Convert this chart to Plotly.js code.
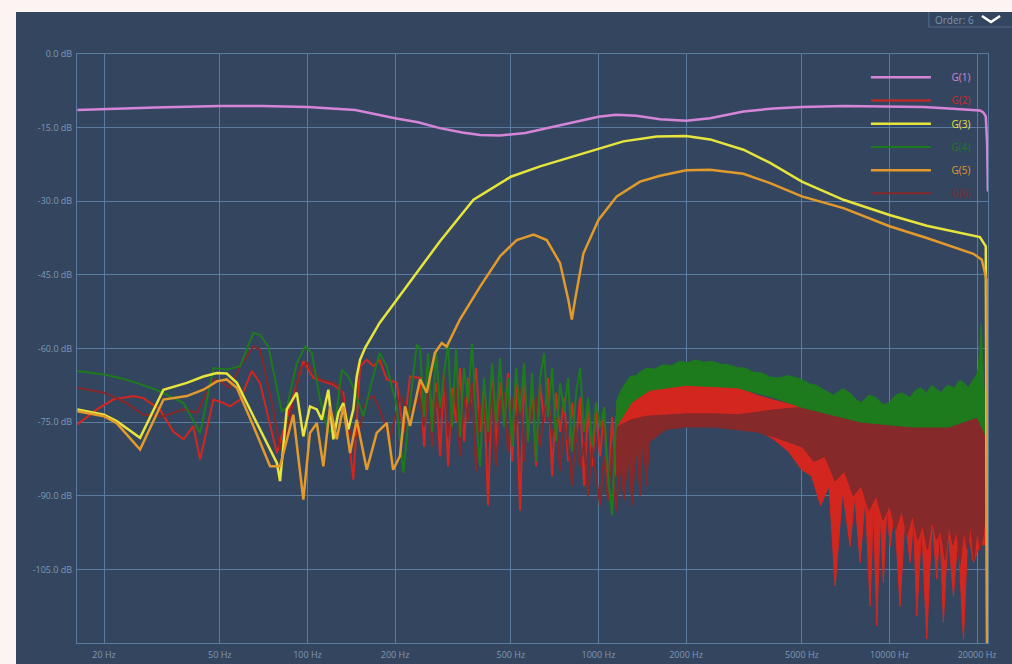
<!DOCTYPE html>
<html><head><meta charset="utf-8">
<script src="https://cdn.plot.ly/plotly-3.0.1.min.js"></script>
<style>
html,body{margin:0;padding:0;background:#fdf3f2;overflow:hidden;}
#chart{position:absolute;left:16px;top:12px;width:996px;height:652px;}
</style></head><body><div id="chart"></div>
<script>
// ---------- tick labels ----------
const xTickVals = [20, 50, 100, 200, 500, 1000, 2000, 5000, 10000, 20000];
const xTickText = ['20 Hz','50 Hz','100 Hz','200 Hz','500 Hz','1000 Hz','2000 Hz','5000 Hz','10000 Hz','20000 Hz'];
const yTickVals = [0, -15, -30, -45, -60, -75, -90, -105];
const yTickText = ['0.0 dB','-15.0 dB','-30.0 dB','-45.0 dB','-60.0 dB','-75.0 dB','-90.0 dB','-105.0 dB'];

// ---------- series names / colours ----------
const seriesNames = ['G(1)','G(2)','G(3)','G(4)','G(5)','G(6)'];
const seriesColors = ['#d585d8','#d3261f','#e7e43c','#1d7a1d','#e29a2c','#86292a'];

// ---------- G(1) ----------
const g1Freq = [16.2, 20, 30, 50, 70, 100, 146, 200, 240, 285, 340, 392, 457, 560, 696, 870, 1000, 1150, 1350, 1628, 2000, 2419, 3148, 4000, 5000, 7000, 10000, 13000, 15000, 19420, 20440, 21000, 21420, 21650, 21780];
const g1Db   = [-11.4, -11.2, -10.9, -10.6, -10.6, -10.8, -11.4, -13.1, -13.9, -15.1, -16.0, -16.5, -16.6, -16.1, -14.9, -13.6, -12.8, -12.4, -12.6, -13.3, -13.6, -13.1, -11.7, -11.1, -10.8, -10.6, -10.7, -10.8, -11.0, -11.4, -11.5, -11.9, -12.7, -18.2, -28];

// ---------- G(3) ----------
const g3Freq = [16.2, 20, 22.1, 26.6, 32.0, 38.5, 43.9, 48.8, 52.8, 57.2, 65.2, 72.5, 78.5, 80.5, 84.9, 91.9, 96.8, 102, 107.7, 112, 118, 122.7, 127.7, 132.8, 138.2, 143.8, 147.7, 151.6, 158, 177, 197, 237, 285, 372, 500, 630, 820, 1000, 1218, 1586, 2000, 2419, 3148, 3888, 5000, 6946, 10000, 13430, 19420, 20440, 21420, 21650];
const g3Db   = [-72.4, -73.5, -74.8, -78.2, -68.4, -67.0, -65.7, -65.0, -65.1, -67.0, -73.8, -79.2, -83.3, -87.0, -72.4, -69.0, -77.9, -71.8, -72.4, -74.5, -68.4, -78.5, -73.1, -71.1, -76.5, -72.4, -65.7, -62.3, -59.8, -54.8, -51.1, -44.6, -38.2, -29.7, -25.0, -22.9, -20.9, -19.4, -17.8, -16.8, -16.7, -17.4, -19.5, -22.2, -26.0, -29.7, -32.8, -35.0, -37.0, -37.3, -39.2, -120];

// ---------- G(5) ----------
const g5Freq = [16.2, 20, 22.1, 26.6, 32.0, 38.5, 43.9, 48.8, 52.8, 57.2, 65.2, 74.4, 80.5, 89.4, 96.8, 102, 107.7, 113.4, 119.6, 126.1, 132.8, 140.1, 147.7, 159.9, 173, 187.3, 197, 208, 216.4, 225.2, 243.8, 257, 274, 289.4, 301, 313, 334, 392, 459, 524, 598, 664, 738, 788, 810, 831, 888, 1000, 1156, 1390, 1628, 2000, 2419, 3148, 3888, 5000, 6946, 10000, 13430, 19420, 20760, 21550, 21650];
const g5Db   = [-72.8, -73.8, -75.2, -80.6, -70.4, -69.7, -68.4, -66.7, -66.3, -68.0, -75.8, -84.0, -84.0, -73.5, -90.8, -77.2, -75.2, -84.0, -71.8, -78.5, -71.8, -81.3, -74.5, -84.7, -77.2, -75.2, -84.7, -81.9, -71.8, -75.8, -66.3, -69.0, -60.9, -58.9, -59.6, -57.5, -54.1, -47.4, -41.2, -37.9, -36.8, -37.9, -42.6, -50.1, -54.1, -50.1, -40.6, -33.8, -29.0, -26.0, -24.8, -23.7, -23.6, -24.4, -26.3, -29.0, -31.4, -35.1, -37.5, -40.7, -41.9, -46, -120];

// ---------- noisy orders: low-frequency line readings ----------
const c2LowF  = [16.2, 18.9, 21.5, 25.2, 27.3, 31.1, 34.6, 37.5, 40.5, 42.8, 47.5, 51.4, 54.2, 58.7, 64.4, 68.7, 78.5, 84.9, 96.8, 104.8, 122.7, 132.8, 143.8, 151.6, 159.9, 168.5, 177, 187.3, 202.7, 213.6, 225.2];
const c2LowDb = [-75.5, -72.4, -70.4, -69.7, -70.1, -72.4, -76.9, -78.5, -75.8, -82.6, -70.4, -71.1, -71.8, -70.4, -64.6, -67.0, -81.3, -74.5, -62.6, -66.0, -67.4, -69.0, -86.7, -63.6, -62.3, -63.6, -62.3, -66.3, -67.0, -77.2, -65.7];
const c4LowF  = [16.2, 20, 22.7, 25.9, 31.1, 37.5, 42.8, 47.5, 52.8, 58.7, 65.2, 68.7, 73.4, 81.6, 84.9, 91.9, 98.1, 103.5, 110.5, 118, 124.4, 131.2, 138.2, 146, 155.7, 166.4, 177, 187.3, 202.7, 213.6, 225.2, 237.4];
const c4LowDb = [-64.6, -65.3, -66.0, -67.0, -68.7, -71.1, -77.2, -64.0, -64.3, -63.6, -56.8, -57.2, -59.6, -72.8, -72.1, -63.0, -59.6, -60.9, -70.4, -77.2, -75.8, -64.3, -65.7, -69.0, -73.8, -66.7, -60.9, -63.6, -71.8, -85.3, -71.1, -59.2];
const c6LowF  = [16.2, 20, 23.9, 27.3, 32.0, 37.5, 41.7, 47.5, 50.1, 54.2, 58.7, 65.2, 68.7, 76.3, 80.5, 84.9, 94.3, 99.5, 110.5, 122.7, 129.4, 140.1, 147.7, 159.9, 168.5, 177, 192.2, 208, 225.2];
const c6LowDb = [-68.0, -69.0, -71.1, -73.5, -73.8, -72.4, -73.1, -66.3, -66.7, -68.0, -63.6, -59.6, -60.2, -72.4, -80.6, -77.2, -64.3, -62.9, -66.3, -67.0, -67.7, -77.2, -78.5, -70.4, -69.7, -72.4, -78.5, -69.7, -73.0];

// ---------- noisy orders: 240 Hz - 1.2 kHz readings ----------
const midFreq = [243.7, 251.6, 259.7, 268.0, 276.6, 285.5, 294.7, 304.2, 314.0, 324.1, 334.5, 345.3, 356.4, 367.8, 379.7, 391.9, 404.5, 417.5, 430.9, 444.7, 459.1, 473.8, 489.1, 504.8, 521.0, 537.8, 555.1, 573.0, 591.4, 610.4, 630.0, 650.3, 671.2, 692.8, 715.1, 738.1, 761.9, 786.4, 811.7, 837.8, 864.7, 892.5, 921.3, 950.9, 981.5, 1013, 1046, 1079, 1114, 1150, 1186];
const c2MidDb = [-66, -80, -64, -73, -67, -82, -65, -84, -68, -75, -64, -79, -66, -71, -64, -77, -68, -92, -66, -80, -67, -74, -65, -83, -67, -93, -66, -78, -68, -84, -67, -75, -66, -86, -69, -77, -70, -83, -71, -79, -70, -88, -72, -84, -73, -82, -72, -90, -74, -86, -72];
const c4MidDb = [-60, -74, -61, -77, -60, -72, -65, -59, -76, -60, -78, -64, -71, -59, -74, -84, -66, -77, -63, -75, -62, -76, -66, -80, -64, -73, -63, -79, -65, -83, -66, -61, -74, -64, -79, -67, -73, -66, -81, -69, -64, -77, -70, -80, -71, -76, -72, -86, -94, -74, -71];
const c6MidDb = [-70, -76, -66, -80, -69, -74, -64, -78, -71, -68, -82, -70, -75, -67, -85, -72, -70, -79, -68, -84, -71, -69, -81, -70, -76, -68, -83, -72, -74, -70, -80, -73, -71, -78, -74, -85, -75, -79, -88, -76, -84, -79, -90, -80, -86, -92, -82, -91, -80, -93, -82];

// ---------- noisy orders: high-frequency bands (upper / lower envelopes) ----------
const c2UpF  = [1150, 1300, 1500, 2000, 2500, 3000, 3500, 4000, 5000, 6000, 7000, 8000, 10000, 14000, 19000, 20500, 21200, 21500];
const c2UpDb = [-72, -68.5, -67.8, -67.3, -67.5, -68, -69.5, -70.5, -72, -74, -76, -78, -80, -80, -79, -72, -80, -90];
const c2LoF  = [1150, 1300, 1500, 2000, 2500, 3000, 3500, 4000, 4500, 5000, 5400, 5800, 6200, 6504, 6900, 7321, 7600, 7926, 8250, 8578, 8800, 9044, 9300, 9528, 9800, 10048, 10400, 10874, 11300, 11770, 12100, 12412, 12900, 13430, 14000, 14540, 14900, 15320, 15900, 16580, 17200, 17950, 18600, 19420, 20480, 21500];
const c2LoDb = [-80, -76, -74, -74, -74, -75, -76.5, -78.5, -81, -84.7, -86, -92, -88, -108.4, -89, -100.3, -90, -103.6, -90, -112.5, -92, -116.5, -94, -107.7, -92, -100.3, -93, -112.5, -94, -103.6, -95, -114.5, -96, -119.2, -95, -107, -96, -115.8, -97, -110.4, -98, -119.2, -97, -103.6, -100, -100];

const c4UpF  = [1150, 1186, 1225, 1284, 1347, 1390, 1463, 1560, 1665, 1780, 1897, 2030, 2161, 2300, 2462, 2630, 2804, 3000, 3194, 3400, 3640, 3900, 4145, 4500, 5000, 5300, 5600, 6000, 6400, 6900, 7300, 7700, 8000, 8500, 9000, 9500, 10000, 10500, 11000, 11760, 12300, 12800, 13400, 14000, 14600, 15000, 15800, 16700, 17400, 18000, 18700, 19400, 19900, 20200, 20400, 20650, 20900, 21200, 21500];
const c4UpDb = [-71, -69, -67.5, -65.7, -65.5, -64.8, -64.0, -64.2, -63.3, -63.5, -62.6, -62.9, -62.3, -62.8, -62.6, -63.2, -63.3, -63.9, -64.0, -64.8, -65.0, -65.8, -66.0, -65.5, -66.3, -67.2, -67.5, -68.5, -69.5, -68.2, -69.0, -70.5, -71, -69.5, -70, -71.5, -71, -69.5, -69, -70, -68.5, -68, -69, -67.5, -68.5, -69, -67.5, -68, -66.5, -67, -68, -66.3, -65.5, -64, -60, -55, -62, -70, -75];
const c4LoF  = [1150, 1300, 1500, 2000, 3000, 4000, 5000, 8000, 12000, 16000, 20000, 21500];
const c4LoDb = [-76, -71, -68.5, -67.5, -68, -70, -72, -75, -76, -76, -74, -78];

const c6UpF  = [1150, 1300, 1460, 1700, 2000, 2500, 3000, 3500, 4000, 5000, 6000, 7000, 8000, 10000, 12000, 14000, 16000, 18000, 19400, 20200, 20600, 20900, 21200, 21500];
const c6UpDb = [-76, -74.5, -73.8, -73.5, -73.3, -73.3, -73.5, -73, -72.5, -72, -72, -73, -74, -74, -73, -72.5, -72, -71, -70, -66, -58, -64, -72, -84];
const c6LoF  = [1150, 1186, 1225, 1264, 1305, 1347, 1390, 1420, 1460, 1500, 1700, 2000, 2500, 3000, 3500, 4000, 4500, 5000, 5500, 6000, 6500, 7000, 7500, 8000, 8500, 9000, 9500, 10000, 10500, 11000, 11500, 12000, 12500, 13000, 13500, 14000, 14500, 15000, 15500, 16000, 16500, 17000, 17500, 18000, 18500, 19000, 19500, 20000, 20500, 21000, 21500];
const c6LoDb = [-86, -84, -91, -82, -92, -80, -90, -78, -88, -79, -76.5, -76, -76, -76.5, -77, -78, -79, -80, -83, -82, -87, -85, -90, -88, -93, -90, -95, -92, -97, -93, -98, -94, -99, -96, -101, -95, -99, -97, -103, -96, -100, -97, -104, -97, -101, -96, -103, -97, -101, -98, -92];

// ---------- build traces ----------
function label(i){
  return '\u00a0\u00a0\u00a0\u00a0\u00a0\u00a0<span style="color:' + seriesColors[i] + '">' + seriesNames[i] + '</span>';
}
function lineTrace(i, x, y, w){
  return {x: x, y: y, type: 'scatter', mode: 'lines', name: label(i),
          legendgroup: 'g' + i, legendrank: i + 1,
          line: {color: seriesColors[i], width: w}, hoverinfo: 'skip'};
}
function bandTrace(i, upF, upDb, loF, loDb){
  return {x: upF.concat(loF.slice().reverse()), y: upDb.concat(loDb.slice().reverse()),
          type: 'scatter', mode: 'lines', fill: 'toself', fillcolor: seriesColors[i],
          line: {color: seriesColors[i], width: 1}, showlegend: false,
          legendgroup: 'g' + i, legendrank: i + 1, hoverinfo: 'skip'};
}

const traces = [
  lineTrace(0, g1Freq, g1Db, 2.5),
  lineTrace(1, c2LowF.concat(midFreq), c2LowDb.concat(c2MidDb), 2),
  bandTrace(1, c2UpF, c2UpDb, c2LoF, c2LoDb),
  lineTrace(5, c6LowF.concat(midFreq), c6LowDb.concat(c6MidDb), 2),
  bandTrace(5, c6UpF, c6UpDb, c6LoF, c6LoDb),
  lineTrace(3, c4LowF.concat(midFreq), c4LowDb.concat(c4MidDb), 2),
  bandTrace(3, c4UpF, c4UpDb, c4LoF, c4LoDb),
  lineTrace(2, g3Freq, g3Db, 2.5),
  lineTrace(4, g5Freq, g5Db, 2.5)
];

const gridCol = '#5a7ba0';
const tickFont = {family: 'Open Sans, DejaVu Sans, sans-serif', size: 9, color: '#7f98b6'};

const layout = {
  width: 996, height: 652,
  paper_bgcolor: '#34465f', plot_bgcolor: '#34465f',
  margin: {l: 61, r: 24, t: 42, b: 21, pad: 0},
  showlegend: true,
  legend: {x: 0.866, y: 0.985, xanchor: 'left', yanchor: 'top',
           bgcolor: 'rgba(0,0,0,0)', borderwidth: 0, itemwidth: 60,
           tracegroupgap: 4.2, traceorder: 'grouped',
           font: {family: 'Open Sans, DejaVu Sans, sans-serif', size: 10, color: '#ffffff'}},
  xaxis: {type: 'log', range: [Math.log10(16.15), Math.log10(21800)],
          tickmode: 'array', tickvals: xTickVals, ticktext: xTickText,
          showgrid: true, gridcolor: gridCol, gridwidth: 1, zeroline: false,
          showline: true, mirror: true, linecolor: gridCol, linewidth: 1,
          ticks: '', tickfont: tickFont, ticklabelstandoff: 3},
  yaxis: {range: [-120, 0], tickmode: 'array', tickvals: yTickVals, ticktext: yTickText,
          showgrid: true, gridcolor: gridCol, gridwidth: 1, zeroline: false,
          showline: true, mirror: true, linecolor: gridCol, linewidth: 1,
          ticks: '', tickfont: tickFont, ticklabelstandoff: 2},
  shapes: [
    {type: 'rect', xref: 'paper', yref: 'paper', x0: 0.935, x1: 1.03, y0: 1.0458, y1: 1.08,
     line: {color: '#52698a', width: 1}, fillcolor: 'rgba(0,0,0,0)'},
    {type: 'path', xref: 'paper', yref: 'paper',
     path: 'M0.9934,1.0645 L1.0033,1.0543 L1.0132,1.0645',
     line: {color: '#ffffff', width: 2.5}}
  ],
  annotations: [
    {xref: 'paper', yref: 'paper', x: 0.9627, y: 1.0577, text: 'Order: 6', showarrow: false,
     xanchor: 'center', yanchor: 'middle',
     font: {family: 'Open Sans, DejaVu Sans, sans-serif', size: 10, color: '#7b93b0'}}
  ]
};

Plotly.newPlot('chart', traces, layout, {displayModeBar: false, staticPlot: true});
</script></body></html>
